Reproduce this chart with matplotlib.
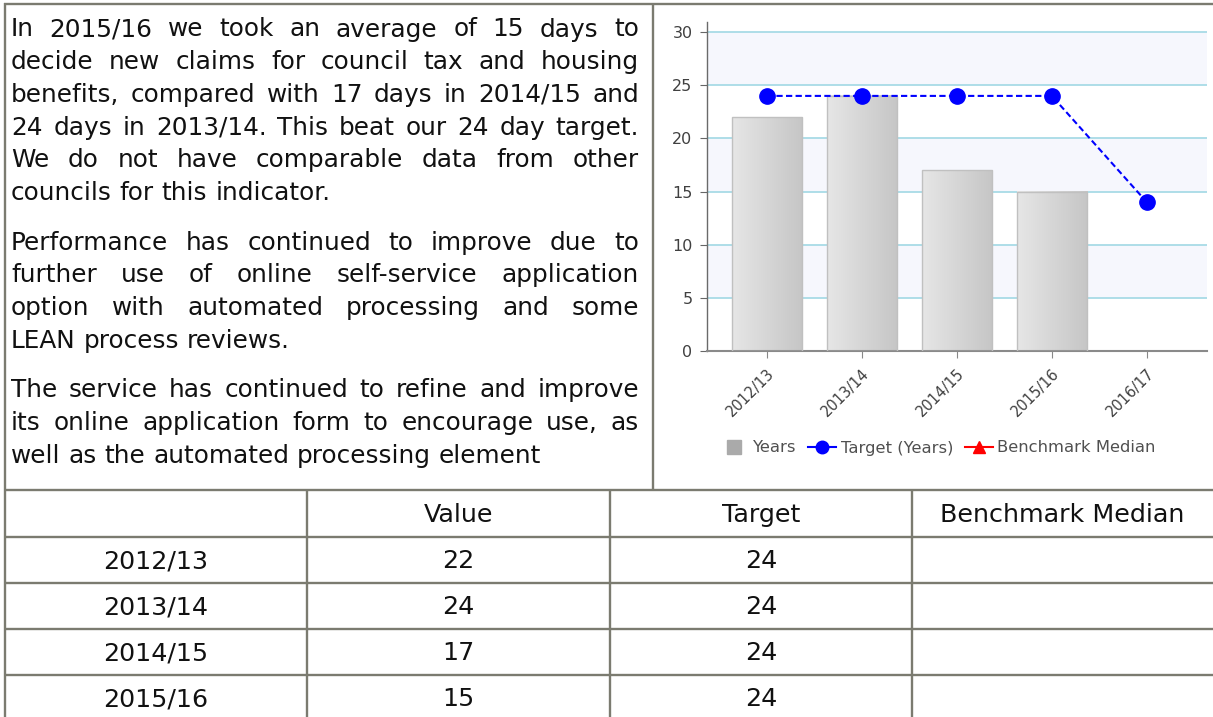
import numpy as np
import matplotlib
matplotlib.use("Agg")
import matplotlib.pyplot as plt
from matplotlib.lines import Line2D
from matplotlib.colors import LinearSegmentedColormap

# ---- data -------------------------------------------------------------
years = ["2012/13", "2013/14", "2014/15", "2015/16", "2016/17"]
values = [22, 24, 17, 15]            # days taken (no figure yet for 2016/17)
targets = [24, 24, 24, 24, 14]       # target days

table_header = ["", "Value", "Target", "Benchmark Median"]
table_years = ["2012/13", "2013/14", "2014/15", "2015/16"]
table_values = ["22", "24", "17", "15"]
table_targets = ["24", "24", "24", "24"]
table_bench = ["", "", "", ""]

paragraphs = [
    ["In 2015/16 we took an average of 15 days to",
     "decide new claims for council tax and housing",
     "benefits, compared with 17 days in 2014/15 and",
     "24 days in 2013/14. This beat our 24 day target.",
     "We do not have comparable data from other",
     "councils for this indicator."],
    ["Performance has continued to improve due to",
     "further use of online self-service application",
     "option with automated processing and some",
     "LEAN process reviews."],
    ["The service has continued to refine and improve",
     "its online application form to encourage use, as",
     "well as the automated processing element"],
]

# ---- page -------------------------------------------------------------
W, H = 1213, 717
fig = plt.figure(figsize=(W / 100, H / 100), dpi=100)
page = fig.add_axes([0, 0, 1, 1])
page.set_xlim(0, W)
page.set_ylim(H, 0)
page.axis("off")

border = "#7b7b70"
blw = 1.7
doc_font = "DejaVu Sans"
doc_size = 17.8
text_col = "#111111"

# outer frame and cell dividers
page.plot([4, W], [4, 4], color=border, lw=blw, solid_capstyle="butt")
page.plot([4.5, 4.5], [3, H], color=border, lw=blw, solid_capstyle="butt")
page.plot([652.5, 652.5], [4, 490], color=border, lw=blw, solid_capstyle="butt")
row_lines = [490, 536.5, 582.5, 628.5, 674.5]
for y in row_lines:
    page.plot([4, W], [y, y], color=border, lw=blw, solid_capstyle="butt")
col_lines = [4.5, 307, 610, 912, W]
for x in col_lines[1:-1]:
    page.plot([x, x], [490, H], color=border, lw=blw, solid_capstyle="butt")

# ---- justified paragraph text ----------------------------------------
renderer = fig.canvas.get_renderer()


def word_width(s, size):
    t = page.text(0, 0, s, fontsize=size, family=doc_font)
    w = t.get_window_extent(renderer).width
    t.remove()
    return w


x_left, x_right = 11, 639

# keep every justified line at least a plain space apart
size = doc_size
while True:
    sp = word_width("x x", size) - word_width("xx", size)
    widest = max(sum(word_width(w, size) for w in ln.split(" "))
                 + sp * (len(ln.split(" ")) - 1)
                 for p in paragraphs for ln in p[:-1])
    if widest <= x_right - x_left or size < 12:
        break
    size -= 0.2
space_w = sp

baseline = 36.5
line_step = 32.7
para_gap = 17
for para in paragraphs:
    for i, line in enumerate(para):
        words = line.split(" ")
        widths = [word_width(w, size) for w in words]
        last = i == len(para) - 1
        if last or len(words) == 1:
            gap = space_w
        else:
            gap = (x_right - x_left - sum(widths)) / (len(words) - 1)
        x = x_left
        for w, wd in zip(words, widths):
            page.text(x, baseline, w, fontsize=size, family=doc_font,
                      color=text_col, va="baseline", ha="left")
            x += wd + gap
        baseline += line_step
    baseline += para_gap

# ---- table ------------------------------------------------------------
row_edges = row_lines + [720]
columns = [[table_header[0]] + table_years,
           [table_header[1]] + table_values,
           [table_header[2]] + table_targets,
           [table_header[3]] + table_bench]
for c, col in enumerate(columns):
    cx = (col_lines[c] + col_lines[c + 1]) / 2
    for r, cell in enumerate(col):
        cy = (row_edges[r] + row_edges[r + 1]) / 2
        page.text(cx, cy + 9, cell, fontsize=18.3, family=doc_font,
                  color=text_col, ha="center", va="baseline")

# ---- chart ------------------------------------------------------------
ax_l, ax_r, ax_b, ax_t = 706.5, 1206.5, 351, 21.5
ax = fig.add_axes([ax_l / W, 1 - ax_b / H, (ax_r - ax_l) / W, (ax_b - ax_t) / H])
ax.set_facecolor("none")

x = np.arange(len(years))
band = "#f6f7fd"
for lo in range(5, 30, 10):
    ax.axhspan(lo, lo + 5, color=band, zorder=0, lw=0)

ax.set_yticks(range(0, 31, 5))
ax.yaxis.grid(True, color="#a8dbe6", lw=1.3, zorder=1)
ax.set_axisbelow(True)

bar_cmap = LinearSegmentedColormap.from_list("bar", ["#e6e6e6", "#c6c6c6"])
bars = ax.bar(x[:len(values)], values, width=0.74, facecolor="none",
              edgecolor="#c0c0c0", lw=1.0, zorder=3)
grad = np.linspace(0, 1, 64).reshape(1, -1)
for b in bars:
    bx, bw, bh = b.get_x(), b.get_width(), b.get_height()
    ax.imshow(grad, cmap=bar_cmap, extent=[bx, bx + bw, 0, bh],
              aspect="auto", zorder=2, interpolation="bilinear")

ax.plot(x, targets, color="#0000ff", lw=1.5, ls=(0, (3, 1.6)),
        marker="o", ms=11, mfc="#0000ff", mec="#0000ff", zorder=4)

ax.set_xlim(-0.635, 4.628)
ax.set_ylim(0, 31)
ax.set_xticks(x)
ax.set_xticklabels(years, rotation=45, ha="right", rotation_mode="anchor",
                   fontsize=10.5, color="#404040")
ax.tick_params(axis="x", length=5, color="#888888", pad=6)
ax.tick_params(axis="y", length=5, color="#666666", labelsize=11.5,
               labelcolor="#404040", pad=5)
for s in ("top", "right"):
    ax.spines[s].set_visible(False)
ax.spines["left"].set_color("#6a6a6a")
ax.spines["left"].set_linewidth(1.0)
ax.spines["bottom"].set_color("#8a8a8a")
ax.spines["bottom"].set_linewidth(1.5)

handles = [
    Line2D([], [], ls="none", marker="s", ms=10, mfc="#aaaaaa", mec="#aaaaaa"),
    Line2D([], [], color="#0000ff", lw=1.5, marker="o", ms=9,
           mfc="#0000ff", mec="#0000ff"),
    Line2D([], [], color="#ff0000", lw=1.5, marker="^", ms=9,
           mfc="#ff0000", mec="#ff0000"),
]
fig.legend(handles, ["Years", "Target (Years)", "Benchmark Median"],
           loc="center", bbox_to_anchor=(938 / W, 1 - 448 / H), ncol=3,
           frameon=False, fontsize=11.8, handlelength=1.7, handletextpad=0.3,
           columnspacing=0.7, labelcolor="#505050", borderaxespad=0)

fig.savefig("out.png", dpi=100)
